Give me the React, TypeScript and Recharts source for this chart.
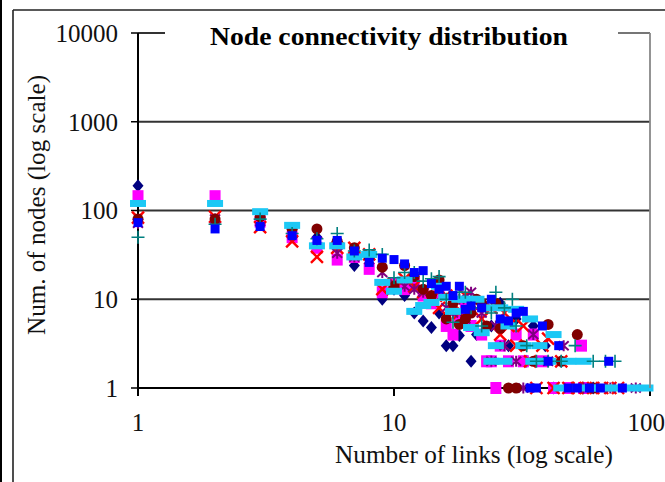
import React from "react";
import { ScatterChart, Scatter, XAxis, YAxis, CartesianGrid } from "recharts";

// [number of links, number of nodes]
const navyDiamond = [
  [1, 190], [2, 75], [3, 70], [4, 55], [5, 50], [6, 40], [7, 24], [8, 30], [9, 10], [10, 13],
  [11, 11], [12, 7], [13, 5.7], [14, 4.8], [15, 7], [16, 3], [17, 3], [18, 3.9], [19, 6], [20, 2],
  [21, 4], [22, 8], [24, 5], [26, 9], [28, 3], [30, 6], [33, 2], [35, 5], [39, 3], [42, 1],
  [45, 2], [50, 1], [55, 1], [60, 1],
];
const magentaSquare = [
  [1, 145], [2, 145], [3, 75], [4, 50], [5, 38], [6, 28], [7, 30], [8, 22], [9, 12], [10, 15],
  [11, 13], [12, 15], [13, 11], [14, 9], [15, 12], [16, 5], [17, 4], [18, 6], [19, 9], [20, 5],
  [22, 4], [23, 2], [24, 2], [25, 1], [26, 3], [28, 2], [30, 4], [32, 2], [35, 4], [38, 2],
  [42, 1], [48, 1], [54, 3], [55, 1],
];
const redCross = [
  [1, 83], [2, 85], [3, 65], [4, 45], [5, 30], [6, 38], [7, 38], [8, 32], [9, 13], [10, 15],
  [11, 17], [12, 14], [13, 12], [14, 10], [15, 8], [16, 11], [17, 9], [18, 7], [19, 11], [20, 9],
  [22, 6], [24, 8], [26, 4], [27, 7], [28, 5], [30, 3], [32, 5], [34, 2], [36, 1], [38, 3],
  [40, 3.6], [42, 1], [45, 2], [48, 1], [52, 1], [56, 1], [60, 1], [65, 1], [70, 1], [75, 1],
];
const purpleStar = [
  [1, 72], [2, 80], [3, 75], [4, 55], [5, 45], [6, 33], [7, 30], [8, 28], [9, 20], [10, 15],
  [11, 14], [12, 13], [13, 12], [14, 10], [15, 13], [16, 8], [17, 7], [18, 10], [19, 6], [20, 12],
  [22, 7], [24, 2], [25, 5], [27, 3], [30, 2], [32, 1], [35, 4], [40, 2], [46, 3], [55, 1],
  [70, 1], [88, 1],
];
const maroonCircle = [
  [1, 80], [2, 80], [3, 85], [4, 62], [5, 62], [6, 45], [7, 38], [8, 30], [9, 23], [10, 14],
  [11, 24], [12, 18], [13, 13], [14, 11], [15, 16.5], [16, 6], [17, 9], [18, 5.2], [19, 6], [20, 7],
  [21, 10], [22, 9], [23, 5], [25, 9], [26, 4.7], [28, 1], [30, 1], [32, 3], [35, 2], [40, 5.2],
  [45, 2], [52, 4], [60, 1],
];
const cyanDash = [
  [1, 120], [2, 120], [3, 97], [4, 68], [5, 40], [6, 40], [7, 30], [8, 32], [9, 15.5], [10, 12.3],
  [11, 16.5], [12, 7.3], [13, 8.5], [14, 9.2], [15, 14], [16, 10.5], [17, 7.3], [18, 10], [19, 10], [20, 4.8],
  [21, 10], [22, 4.2], [23, 8], [24, 2], [25, 3], [26, 8], [27, 2], [28, 5], [30, 7.7], [32, 3],
  [34, 6], [35, 2], [37, 3], [40, 2], [42, 4], [45, 1], [48, 2], [50, 1], [55, 2], [58, 1],
  [62, 1], [66, 1], [75, 1], [85, 1], [96, 1],
];
const tealPlus = [
  [1, 50], [2, 70], [3, 80], [4, 55], [5, 48], [6, 55], [7, 35], [8, 36], [9, 32], [10, 17.5],
  [11, 20], [12, 20], [13, 16], [14, 17], [15, 18], [16, 10], [17, 5.5], [18, 12], [19, 12], [20, 8],
  [22, 5], [24, 7], [25, 12], [27, 8], [29, 10], [30, 5], [33, 3], [36, 2], [40, 2], [45, 2],
  [51, 3], [60, 2], [67, 2], [73, 2],
];
const blueSquare = [
  [1, 73], [2, 62], [3, 66], [4, 52], [5, 46], [6, 46], [7, 35], [8, 26], [9, 29], [10, 28],
  [11, 25], [12, 20], [13, 21], [14, 15], [15, 13], [16, 14], [17, 11], [18, 14], [19, 7.7], [20, 8.4],
  [22, 8], [24, 10], [26, 6], [28, 5.7], [30, 7], [32, 7.3], [34, 1], [36, 1], [38, 5], [40, 2],
  [44, 3], [48, 1], [52, 1], [58, 1], [64, 1], [69, 2], [78, 1],
];

const xTicks = [1, 10, 100];
const yTicks = [1, 10, 100, 1000, 10000];

const toPoints = (rows: number[][]) => rows.map(([x, y]) => ({ x, y }));

const font = "'Liberation Serif', 'Times New Roman', serif";

const Diamond = ({ cx, cy }: any) => (
  <polygon points={`${cx},${cy - 6.5} ${cx + 5.5},${cy} ${cx},${cy + 6.5} ${cx - 5.5},${cy}`} fill="#000080" />
);
const MagSquare = ({ cx, cy }: any) => <rect x={cx - 5.5} y={cy - 6} width={11} height={12} fill="#FF00FF" />;
const XMark = ({ cx, cy }: any) => (
  <path d={`M${cx - 6},${cy - 6}L${cx + 6},${cy + 6}M${cx + 6},${cy - 6}L${cx - 6},${cy + 6}`} stroke="#FF0000" strokeWidth={2.4} />
);
const Star = ({ cx, cy }: any) => (
  <path
    d={`M${cx},${cy - 5.5}L${cx},${cy + 5.5}M${cx - 5},${cy - 4.5}L${cx + 5},${cy + 4.5}M${cx + 5},${cy - 4.5}L${cx - 5},${cy + 4.5}`}
    stroke="#800080"
    strokeWidth={2}
  />
);
const Dot = ({ cx, cy }: any) => <circle cx={cx} cy={cy} r={5.5} fill="#800000" />;
const Dash = ({ cx, cy }: any) => <rect x={cx - 8} y={cy - 3.5} width={16} height={7} fill="#1CC8F5" />;
const Plus = ({ cx, cy }: any) => (
  <path d={`M${cx - 6.5},${cy}L${cx + 6.5},${cy}M${cx},${cy - 6.5}L${cx},${cy + 6.5}`} stroke="#008080" strokeWidth={1.6} />
);
const BlueSq = ({ cx, cy }: any) => <rect x={cx - 4.5} y={cy - 4.5} width={9} height={9} fill="#0000FF" />;

export default function App() {
  return (
    <div style={{ position: "absolute", left: 0, top: 0, width: 665, height: 482, background: "#fff" }}>
      <ScatterChart width={665} height={482} margin={{ top: 33, right: 15, left: 0, bottom: 0 }}>
        <CartesianGrid horizontal vertical={false} stroke="#333" strokeWidth={1.8} />
        <XAxis
          type="number"
          dataKey="x"
          scale="log"
          domain={[1, 100]}
          ticks={xTicks}
          height={94}
          axisLine={{ stroke: "#000", strokeWidth: 2 }}
          tickLine={{ stroke: "#000", strokeWidth: 2 }}
          tickSize={8}
          tickMargin={17}
          tick={{ fill: "#111", fontSize: 25, fontFamily: font }}
        />
        <YAxis
          type="number"
          dataKey="y"
          scale="log"
          domain={[1, 10000]}
          ticks={yTicks}
          width={138}
          axisLine={{ stroke: "#000", strokeWidth: 2 }}
          tickLine={{ stroke: "#000", strokeWidth: 1.5 }}
          tickSize={7}
          tickMargin={13}
          tick={{ fill: "#111", fontSize: 25, fontFamily: font }}
        />
        <Scatter data={toPoints(navyDiamond)} shape={Diamond} isAnimationActive={false} />
        <Scatter data={toPoints(magentaSquare)} shape={MagSquare} isAnimationActive={false} />
        <Scatter data={toPoints(redCross)} shape={XMark} isAnimationActive={false} />
        <Scatter data={toPoints(purpleStar)} shape={Star} isAnimationActive={false} />
        <Scatter data={toPoints(maroonCircle)} shape={Dot} isAnimationActive={false} />
        <Scatter data={toPoints(cyanDash)} shape={Dash} isAnimationActive={false} />
        <Scatter data={toPoints(tealPlus)} shape={Plus} isAnimationActive={false} />
        <Scatter data={toPoints(blueSquare)} shape={BlueSq} isAnimationActive={false} />
      </ScatterChart>
      <svg width={665} height={482} style={{ position: "absolute", left: 0, top: 0, pointerEvents: "none" }}>
        {/* page and figure frame */}
        <line x1={1} y1={0} x2={1} y2={482} stroke="#000" strokeWidth={2} />
        <line x1={13} y1={10} x2={13} y2={482} stroke="#222" strokeWidth={1.6} />
        <line x1={13} y1={10} x2={665} y2={10} stroke="#222" strokeWidth={1.6} />
        {/* title box hides the top grid line */}
        <rect x={165} y={24} width={453} height={26} fill="#fff" />
        <line x1={618} y1={33} x2={650} y2={33} stroke="#888" strokeWidth={1.6} />
        <line x1={650} y1={33} x2={650} y2={388} stroke="#888" strokeWidth={1.8} />
        <text
          x={210}
          y={45}
          textLength={358}
          lengthAdjust="spacingAndGlyphs"
          fontFamily={font}
          fontWeight="bold"
          fontSize={25}
          fill="#000"
        >
          Node connectivity distribution
        </text>
        <text
          x={335}
          y={463}
          textLength={278}
          lengthAdjust="spacingAndGlyphs"
          fontFamily={font}
          fontSize={25}
          fill="#111"
        >
          Number of links (log scale)
        </text>
        <text
          x={0}
          y={0}
          textLength={260}
          lengthAdjust="spacingAndGlyphs"
          dominantBaseline="central"
          transform="translate(36 335) rotate(-90)"
          fontFamily={font}
          fontSize={25}
          fill="#111"
        >
          Num. of nodes (log scale)
        </text>
      </svg>
    </div>
  );
}
